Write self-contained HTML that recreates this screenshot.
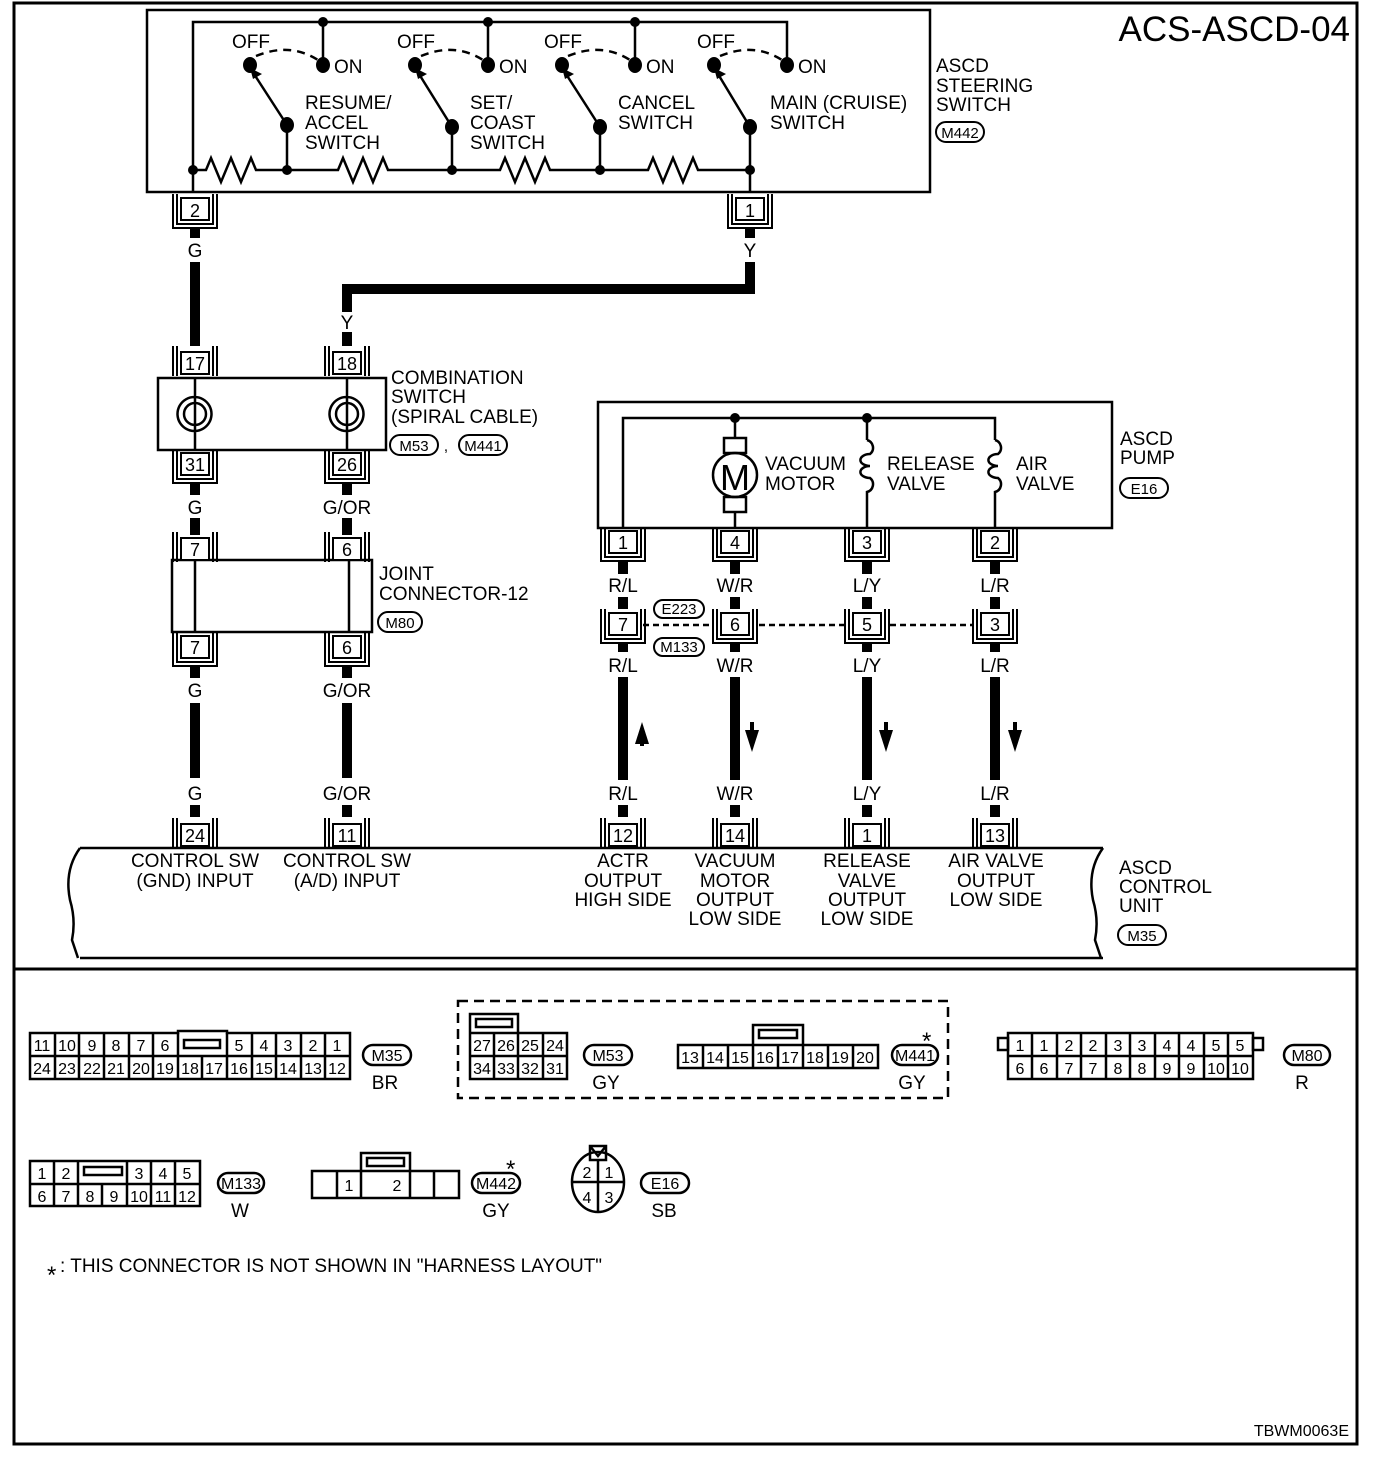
<!DOCTYPE html>
<html><head><meta charset="utf-8"><style>
html,body{margin:0;padding:0;background:#fff}
svg{display:block}
text{font-family:"Liberation Sans",Arial,sans-serif;fill:#000}
</style></head><body>
<svg width="1392" height="1468" viewBox="0 0 1392 1468" xmlns="http://www.w3.org/2000/svg">
<defs>
<g id="cu"><rect x="-14" y="0" width="28" height="22" fill="#fff" stroke="#000" stroke-width="2"/><path d="M-18,-4V26H18V-4M-22,-4V30H22V-4" fill="none" stroke="#000" stroke-width="2"/></g>
<g id="cs"><rect x="-14" y="0" width="28" height="22" fill="#fff" stroke="#000" stroke-width="2"/><path d="M-18,-6V24M-22,-6V24M18,-6V24M22,-6V24" fill="none" stroke="#000" stroke-width="2"/></g>
</defs>
<rect width="1392" height="1468" fill="#fff"/>
<rect x="14" y="3" width="1343" height="1441" fill="none" stroke="#000" stroke-width="3"/>
<line x1="14" y1="969" x2="1357" y2="969" stroke="#000" stroke-width="3"/>
<text x="1350" y="41" font-size="35" text-anchor="end">ACS-ASCD-04</text>

<g stroke="#000" stroke-width="2.5" fill="none">
<rect x="147" y="10" width="783" height="182"/>
<path d="M193,170V22H787V65"/>
<path d="M323,22V65M488,22V65M635,22V65"/>
<path d="M193,170H206l5,-12l10,24l10,-24l10,24l10,-24l5,12H287H338l5,-12l10,24l10,-24l10,24l10,-24l5,12H452H500l5,-12l10,24l10,-24l10,24l10,-24l5,12H600H648l5,-12l10,24l10,-24l10,24l10,-24l5,12H750V192"/>
<path d="M193,170V192"/>
<path d="M287,170V125M452,170V127M600,170V127M750,170V127"/>
<path d="M287,125L254,74M452,127L419,74M600,127L566,74M750,127L718,74"/>
<path d="M256,56Q290,42 318,60M421,56Q455,42 483,60M568,56Q602,42 630,60M720,56Q754,42 782,60" stroke-dasharray="8,6"/>
</g>
<g fill="#000">
<path d="M250,68l12,6l-9,5z"/>
<path d="M415,68l12,6l-9,5z"/>
<path d="M562,68l12,6l-9,5z"/>
<path d="M714,68l12,6l-9,5z"/>
<circle cx="323" cy="22" r="5"/><circle cx="488" cy="22" r="5"/><circle cx="635" cy="22" r="5"/>
<ellipse cx="250" cy="65" rx="7" ry="8"/><ellipse cx="415" cy="65" rx="7" ry="8"/><ellipse cx="562" cy="65" rx="7" ry="8"/><ellipse cx="714" cy="65" rx="7" ry="8"/>
<ellipse cx="323" cy="65" rx="7" ry="8"/><ellipse cx="488" cy="65" rx="7" ry="8"/><ellipse cx="635" cy="65" rx="7" ry="8"/><ellipse cx="787" cy="65" rx="7" ry="8"/>
<ellipse cx="287" cy="125" rx="7" ry="8"/><ellipse cx="452" cy="127" rx="7" ry="8"/><ellipse cx="600" cy="127" rx="7" ry="8"/><ellipse cx="750" cy="127" rx="7" ry="8"/>
<circle cx="193" cy="170" r="5"/><circle cx="287" cy="170" r="5"/><circle cx="452" cy="170" r="5"/><circle cx="600" cy="170" r="5"/><circle cx="750" cy="170" r="5"/>
</g>
<g font-size="19">
<text x="232" y="48">OFF</text><text x="397" y="48">OFF</text><text x="544" y="48">OFF</text><text x="697" y="48">OFF</text>
<text x="334" y="73">ON</text><text x="499" y="73">ON</text><text x="646" y="73">ON</text><text x="798" y="73">ON</text>
<text x="305" y="109">RESUME/</text><text x="305" y="129">ACCEL</text><text x="305" y="149">SWITCH</text>
<text x="470" y="109">SET/</text><text x="470" y="129">COAST</text><text x="470" y="149">SWITCH</text>
<text x="618" y="109">CANCEL</text><text x="618" y="129">SWITCH</text>
<text x="770" y="109">MAIN (CRUISE)</text><text x="770" y="129">SWITCH</text>
<text x="936" y="72">ASCD</text><text x="936" y="92">STEERING</text><text x="936" y="111">SWITCH</text>
</g>
<g stroke="#000" stroke-width="2" fill="none">
<rect x="936" y="122" width="48" height="20" rx="10"/>
<rect x="390" y="435" width="48" height="20" rx="10"/>
<rect x="459" y="435" width="48" height="20" rx="10"/>
<rect x="378" y="612" width="44" height="20" rx="10"/>
<rect x="1120" y="478" width="48" height="20" rx="10"/>
<rect x="654" y="600" width="50" height="18" rx="9"/>
<rect x="654" y="638" width="50" height="18" rx="9"/>
<rect x="1118" y="925" width="48" height="20" rx="10"/>
</g>
<g font-size="15" text-anchor="middle">
<text x="960" y="138">M442</text>
<text x="414" y="451">M53</text><text x="446" y="451">,</text><text x="483" y="451">M441</text>
<text x="400" y="628">M80</text>
<text x="1144" y="494">E16</text>
<text x="679" y="614">E223</text><text x="679" y="652">M133</text>
<text x="1142" y="941">M35</text>
</g>

<g stroke="#000" stroke-width="10" fill="none">
<path d="M195,228V238M195,262V346"/>
<path d="M750,228V238M750,262V289H347V312"/>
<path d="M347,332V346"/>
<path d="M195,483V495M195,518V535M347,483V495M347,518V535"/>
<path d="M195,666V678M195,703V778M347,666V678M347,703V778"/>
<path d="M195,805V817M347,805V817"/>
<path d="M623,562V574M735,562V574M867,562V574M995,562V574"/>
<path d="M623,597V609M735,597V609M867,597V609M995,597V609"/>
<path d="M623,643V652M735,643V652M867,643V652M995,643V652"/>
<path d="M623,677V780M735,677V780M867,677V780M995,677V780"/>
<path d="M623,805V817M735,805V817M867,805V817M995,805V817"/>
</g>
<g font-size="19" text-anchor="middle">
<text x="195" y="257">G</text><text x="750" y="257">Y</text><text x="347" y="329">Y</text>
<text x="195" y="514">G</text><text x="347" y="514">G/OR</text>
<text x="195" y="697">G</text><text x="347" y="697">G/OR</text>
<text x="195" y="800">G</text><text x="347" y="800">G/OR</text>
<text x="623" y="592">R/L</text><text x="735" y="592">W/R</text><text x="867" y="592">L/Y</text><text x="995" y="592">L/R</text>
<text x="623" y="672">R/L</text><text x="735" y="672">W/R</text><text x="867" y="672">L/Y</text><text x="995" y="672">L/R</text>
<text x="623" y="800">R/L</text><text x="735" y="800">W/R</text><text x="867" y="800">L/Y</text><text x="995" y="800">L/R</text>
</g>
<g fill="#000">
<path d="M642,722l-7,22h14z"/><rect x="640" y="740" width="4" height="6"/>
<path d="M752,752l-7,-22h14z"/><rect x="750" y="722" width="4" height="10"/>
<path d="M886,752l-7,-22h14z"/><rect x="884" y="722" width="4" height="10"/>
<path d="M1015,752l-7,-22h14z"/><rect x="1013" y="722" width="4" height="10"/>
</g>

<g stroke="#000" stroke-width="2.5" fill="none">
<rect x="158" y="378" width="228" height="72"/>
<path d="M195,378V397a17,17 0 1 1 -1,0M195,397V450"/>
<path d="M347,378V397a17,17 0 1 1 -1,0M347,397V450"/>
<circle cx="195" cy="414" r="11"/><circle cx="347" cy="414" r="11"/>
<rect x="172" y="560" width="200" height="72"/>
<path d="M195,560V632M349,560V632"/>
</g>
<g font-size="19">
<text x="391" y="384">COMBINATION</text><text x="391" y="403">SWITCH</text><text x="391" y="423">(SPIRAL CABLE)</text>
<text x="379" y="580">JOINT</text><text x="379" y="600">CONNECTOR-12</text>
</g>

<g stroke="#000" stroke-width="2.5" fill="none">
<rect x="598" y="402" width="514" height="126"/>
<path d="M623,528V418H995V440M735,418V438M867,418V440"/>
<rect x="724" y="438" width="22" height="15"/>
<circle cx="735" cy="475" r="22"/>
<rect x="724" y="497" width="22" height="15"/>
<path d="M735,512V528"/>
<path d="M867,440a8,8 0 0 1 3,14a8,5 0 1 0 0,12a8,5 0 1 0 0,12a8,8 0 0 1 -3,14V528"/>
<path d="M995,440a8,8 0 0 1 3,14a8,5 0 1 0 0,12a8,5 0 1 0 0,12a8,8 0 0 1 -3,14V528"/>
<path d="M643,625H712M759,625H845M890,625H973" stroke-dasharray="6,4"/>
</g>
<g fill="#000"><circle cx="735" cy="418" r="5"/><circle cx="867" cy="418" r="5"/></g>
<text x="735" y="490" font-size="36" text-anchor="middle">M</text>
<g font-size="19">
<text x="765" y="470">VACUUM</text><text x="765" y="490">MOTOR</text>
<text x="887" y="470">RELEASE</text><text x="887" y="490">VALVE</text>
<text x="1016" y="470">AIR</text><text x="1016" y="490">VALVE</text>
<text x="1120" y="445">ASCD</text><text x="1120" y="464">PUMP</text>
</g>

<path d="M80,848H1103M80,958H1103M80,848Q64,870 70,900Q76,920 72,940L78,958M1103,848Q1087,870 1093,900Q1099,920 1095,940L1101,958" stroke="#000" stroke-width="2.5" fill="none"/>
<g font-size="19" text-anchor="middle">
<text x="195" y="867">CONTROL SW</text><text x="195" y="887">(GND) INPUT</text>
<text x="347" y="867">CONTROL SW</text><text x="347" y="887">(A/D) INPUT</text>
<text x="623" y="867">ACTR</text><text x="623" y="887">OUTPUT</text><text x="623" y="906">HIGH SIDE</text>
<text x="735" y="867">VACUUM</text><text x="735" y="887">MOTOR</text><text x="735" y="906">OUTPUT</text><text x="735" y="925">LOW SIDE</text>
<text x="867" y="867">RELEASE</text><text x="867" y="887">VALVE</text><text x="867" y="906">OUTPUT</text><text x="867" y="925">LOW SIDE</text>
<text x="996" y="867">AIR VALVE</text><text x="996" y="887">OUTPUT</text><text x="996" y="906">LOW SIDE</text>
</g>
<g font-size="19"><text x="1119" y="874">ASCD</text><text x="1119" y="893">CONTROL</text><text x="1119" y="912">UNIT</text></g>

<use href="#cu" x="195" y="198"/><use href="#cu" x="750" y="198"/>
<use href="#cs" x="195" y="352"/><use href="#cs" x="347" y="352"/>
<use href="#cu" x="195" y="453"/><use href="#cu" x="347" y="453"/>
<use href="#cs" x="195" y="538"/><use href="#cs" x="347" y="538"/>
<use href="#cu" x="195" y="636"/><use href="#cu" x="347" y="636"/>
<use href="#cs" x="195" y="824"/><use href="#cs" x="347" y="824"/>
<use href="#cs" x="623" y="824"/><use href="#cs" x="735" y="824"/><use href="#cs" x="867" y="824"/><use href="#cs" x="995" y="824"/>
<use href="#cu" x="623" y="531"/><use href="#cu" x="735" y="531"/><use href="#cu" x="867" y="531"/><use href="#cu" x="995" y="531"/>
<use href="#cu" x="623" y="613"/><use href="#cu" x="735" y="613"/><use href="#cu" x="867" y="613"/><use href="#cu" x="995" y="613"/>
<g font-size="18" text-anchor="middle">
<text x="195" y="217">2</text><text x="750" y="217">1</text>
<text x="195" y="370">17</text><text x="347" y="370">18</text>
<text x="195" y="471">31</text><text x="347" y="471">26</text>
<text x="195" y="556">7</text><text x="347" y="556">6</text>
<text x="195" y="654">7</text><text x="347" y="654">6</text>
<text x="195" y="842">24</text><text x="347" y="842">11</text>
<text x="623" y="842">12</text><text x="735" y="842">14</text><text x="867" y="842">1</text><text x="995" y="842">13</text>
<text x="623" y="549">1</text><text x="735" y="549">4</text><text x="867" y="549">3</text><text x="995" y="549">2</text>
<text x="623" y="631">7</text><text x="735" y="631">6</text><text x="867" y="631">5</text><text x="995" y="631">3</text>
</g>

<g stroke="#000" stroke-width="2.5" fill="none">
<path d="M30,1033H178V1031H227V1033H350V1079H30Z M30,1056H350"/>
<path d="M55,1033V1079M79,1033V1079M104,1033V1079M129,1033V1079M153,1033V1079M178,1033V1079M202,1056V1079M227,1033V1079M252,1033V1079M276,1033V1079M301,1033V1079M325,1033V1079"/>
<rect x="184" y="1040" width="36" height="8"/>
<path d="M470,1033V1079H567V1033H470M470,1056H567M494,1033V1079M518,1033V1079M543,1033V1079M470,1033V1014H518V1033"/>
<rect x="476" y="1019" width="36" height="8"/>
<path d="M678,1045H878V1068H678Z M703,1045V1068M728,1045V1068M753,1045V1068M778,1045V1068M803,1045V1068M828,1045V1068M853,1045V1068M753,1045V1025H803V1045"/>
<rect x="759" y="1030" width="38" height="8"/>
<rect x="458" y="1001" width="490" height="97" stroke-dasharray="10,6"/>
<path d="M1008,1033H1253V1079H1008Z M1008,1056H1253M1032,1033V1079M1057,1033V1079M1081,1033V1079M1106,1033V1079M1130,1033V1079M1155,1033V1079M1179,1033V1079M1204,1033V1079M1228,1033V1079"/>
<rect x="998" y="1038" width="10" height="12"/><rect x="1253" y="1038" width="10" height="12"/>
<path d="M30,1161H200V1206H30Z M30,1184H200M54,1161V1206M78,1161V1206M102,1184V1206M127,1161V1206M151,1161V1206M175,1161V1206"/>
<rect x="84" y="1167" width="38" height="8"/>
<path d="M312,1171H459V1198H312Z M337,1171V1198M361,1171V1198M410,1171V1198M434,1171V1198M361,1171V1153H410V1171"/>
<rect x="367" y="1158" width="37" height="8"/>
<ellipse cx="598" cy="1182" rx="26" ry="30"/>
<path d="M572,1182H624M598,1160V1212"/>
<path d="M590,1146H606V1160H590Z M590,1146L598,1156L606,1146"/>
<rect x="363" y="1045" width="48" height="20" rx="10"/>
<rect x="584" y="1045" width="48" height="20" rx="10"/>
<rect x="892" y="1045" width="46" height="20" rx="10"/>
<rect x="1284" y="1045" width="46" height="20" rx="10"/>
<rect x="218" y="1173" width="46" height="20" rx="10"/>
<rect x="472" y="1173" width="48" height="20" rx="10"/>
<rect x="641" y="1173" width="48" height="20" rx="10"/>
</g>
<g font-size="16" text-anchor="middle">
<text x="42" y="1051">11</text><text x="67" y="1051">10</text><text x="92" y="1051">9</text><text x="116" y="1051">8</text><text x="141" y="1051">7</text><text x="165" y="1051">6</text><text x="239" y="1051">5</text><text x="264" y="1051">4</text><text x="288" y="1051">3</text><text x="313" y="1051">2</text><text x="337" y="1051">1</text>
<text x="42" y="1074">24</text><text x="67" y="1074">23</text><text x="92" y="1074">22</text><text x="116" y="1074">21</text><text x="141" y="1074">20</text><text x="165" y="1074">19</text><text x="190" y="1074">18</text><text x="214" y="1074">17</text><text x="239" y="1074">16</text><text x="264" y="1074">15</text><text x="288" y="1074">14</text><text x="313" y="1074">13</text><text x="337" y="1074">12</text>
<text x="482" y="1051">27</text><text x="506" y="1051">26</text><text x="530" y="1051">25</text><text x="555" y="1051">24</text>
<text x="482" y="1074">34</text><text x="506" y="1074">33</text><text x="530" y="1074">32</text><text x="555" y="1074">31</text>
<text x="690" y="1063">13</text><text x="715" y="1063">14</text><text x="740" y="1063">15</text><text x="765" y="1063">16</text><text x="790" y="1063">17</text><text x="815" y="1063">18</text><text x="840" y="1063">19</text><text x="865" y="1063">20</text>
<text x="1020" y="1051">1</text><text x="1044" y="1051">1</text><text x="1069" y="1051">2</text><text x="1093" y="1051">2</text><text x="1118" y="1051">3</text><text x="1142" y="1051">3</text><text x="1167" y="1051">4</text><text x="1191" y="1051">4</text><text x="1216" y="1051">5</text><text x="1240" y="1051">5</text>
<text x="1020" y="1074">6</text><text x="1044" y="1074">6</text><text x="1069" y="1074">7</text><text x="1093" y="1074">7</text><text x="1118" y="1074">8</text><text x="1142" y="1074">8</text><text x="1167" y="1074">9</text><text x="1191" y="1074">9</text><text x="1216" y="1074">10</text><text x="1240" y="1074">10</text>
<text x="42" y="1179">1</text><text x="66" y="1179">2</text><text x="139" y="1179">3</text><text x="163" y="1179">4</text><text x="187" y="1179">5</text>
<text x="42" y="1202">6</text><text x="66" y="1202">7</text><text x="90" y="1202">8</text><text x="114" y="1202">9</text><text x="139" y="1202">10</text><text x="163" y="1202">11</text><text x="187" y="1202">12</text>
<text x="349" y="1191">1</text><text x="397" y="1191">2</text>
<text x="587" y="1178">2</text><text x="609" y="1178">1</text><text x="587" y="1203">4</text><text x="609" y="1203">3</text>
<text x="387" y="1061">M35</text><text x="608" y="1061">M53</text><text x="915" y="1061">M441</text><text x="1307" y="1061">M80</text>
<text x="241" y="1189">M133</text><text x="496" y="1189">M442</text><text x="665" y="1189">E16</text>
</g>
<g font-size="19" text-anchor="middle">
<text x="385" y="1089">BR</text><text x="606" y="1089">GY</text><text x="912" y="1089">GY</text><text x="1302" y="1089">R</text>
<text x="240" y="1217">W</text><text x="496" y="1217">GY</text><text x="664" y="1217">SB</text>
</g>
<g font-size="24"><text x="922" y="1049">*</text><text x="506" y="1177">*</text><text x="47" y="1283">*</text></g>
<text x="60" y="1272" font-size="19">: THIS CONNECTOR IS NOT SHOWN IN "HARNESS LAYOUT"</text>
<text x="1349" y="1436" font-size="16" text-anchor="end">TBWM0063E</text>
</svg>
</body></html>
